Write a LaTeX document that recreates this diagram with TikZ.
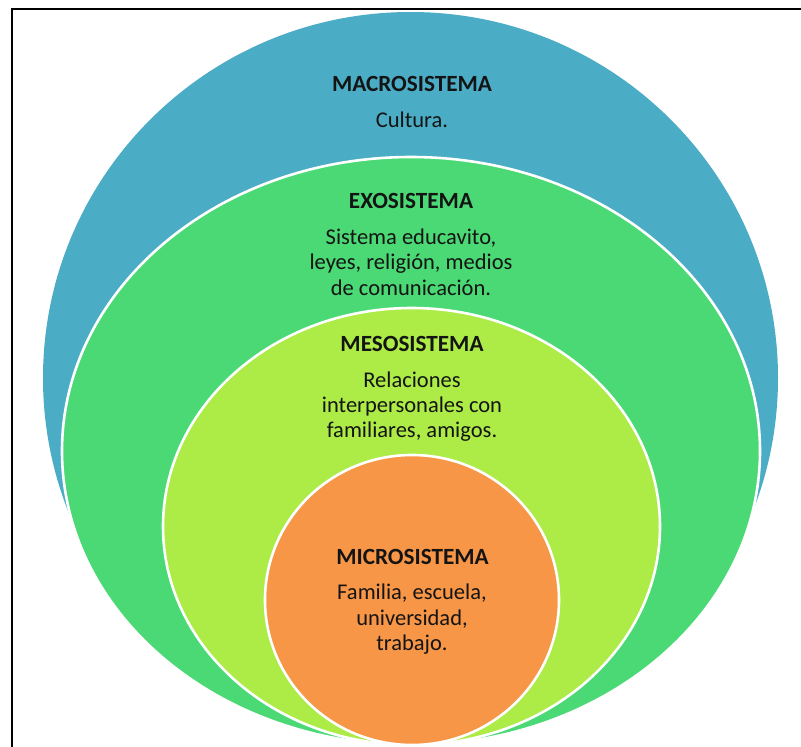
\documentclass[tikz,border=0pt]{standalone}
\usepackage{fontspec}
\setmainfont{Carlito}
\definecolor{macroc}{HTML}{4BACC6}
\definecolor{exoc}{HTML}{4AD974}
\definecolor{mesoc}{HTML}{ADEB47}
\definecolor{microc}{HTML}{F79646}
\definecolor{txt}{HTML}{141414}
\tikzset{
  layer/.style={draw=white, line width=2.6pt},
  title/.style={anchor=base, inner sep=0pt, text=txt, font=\fontsize{23.2}{25.3}\selectfont\bfseries},
  body/.style={anchor=base, inner sep=0pt, text=txt, align=center, font=\fontsize{22.5}{25.3}\selectfont},
}
\begin{document}
\begin{tikzpicture}[x=1pt,y=-1pt]
\useasboundingbox (0,0) rectangle (801,747);
\fill[white] (0,0) rectangle (801,747);
\draw[line width=2pt] (12,747) -- (12,9) -- (801,9);
\fill[macroc] (410.5,378) ellipse [x radius=367.5pt, y radius=366pt];
\path[layer, fill=exoc] (411,451) ellipse [x radius=349pt, y radius=294pt];
\path[layer, fill=mesoc] (411.5,526.5) ellipse [x radius=248.5pt, y radius=218.5pt];
\path[layer, fill=microc] (412,600) ellipse [x radius=147pt, y radius=145pt];
\node[title] (macrot) at (412,91) {MACROSISTEMA};
\node[body] (macrob) at (412,127.5) {Cultura.};
\node[title] (exot) at (411,208.3) {EXOSISTEMA};
\node[body] (exob) at (411,295) {Sistema educavito,\\leyes, religión, medios\\de comunicación.};
\node[title] (mesot) at (412,351.7) {MESOSISTEMA};
\node[body] (mesob) at (412,437.7) {Relaciones\\interpersonales con\\familiares, amigos.};
\node[title] (microt) at (412.5,564) {MICROSISTEMA};
\node[body] (microb) at (412,650.5) {Familia, escuela,\\universidad,\\trabajo.};
\end{tikzpicture}
\end{document}
